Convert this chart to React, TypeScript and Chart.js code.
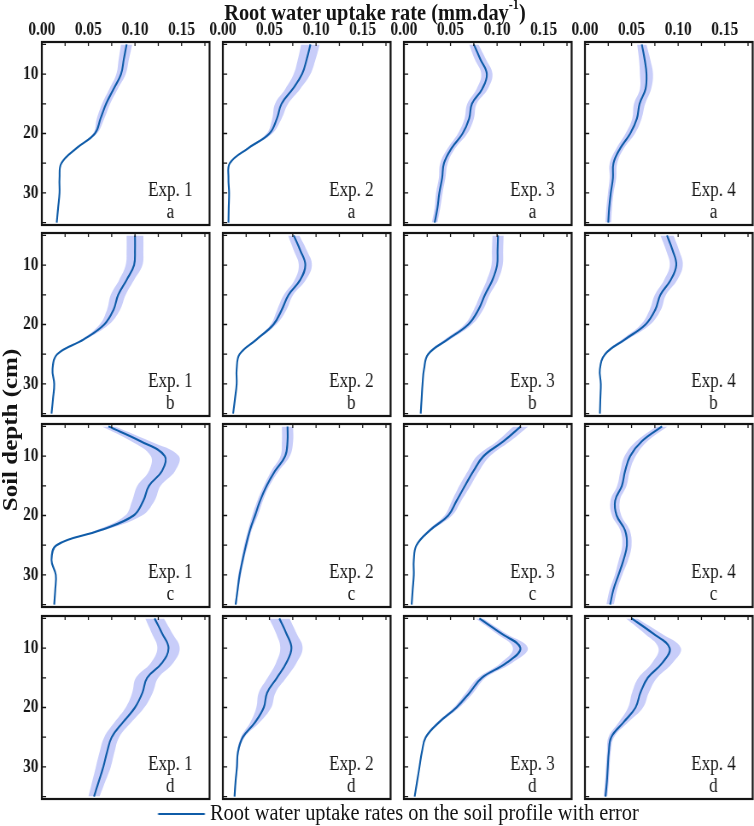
import { useEffect, useRef } from 'react';
import { Chart, registerables } from 'chart.js';

Chart.register(...registerables);

// soil depth (cm) where the profiles were read
const depths = [5, 7.5, 10, 12.5, 15, 17.5, 20, 22.5, 25, 27.5, 30, 32.5, 35];
const expNames = ['Exp. 1', 'Exp. 2', 'Exp. 3', 'Exp. 4'];
const rowLetters = ['a', 'b', 'c', 'd'];

// root water uptake rate (mm/day), mean and error, row a
const meanA1 = [0.091, 0.088, 0.085, 0.077, 0.069, 0.063, 0.057, 0.037, 0.021, 0.019, 0.019, 0.0175, 0.016];
const errA1 = [0.006, 0.0055, 0.005, 0.0045, 0.0043, 0.004, 0.002, 0.001, 0.0005, 0.0003, 0.0003, 0.0003, 0.0003];
const meanA2 = [0.094, 0.09, 0.085, 0.075, 0.063, 0.058, 0.05, 0.027, 0.0075, 0.006, 0.0067, 0.0063, 0.006];
const errA2 = [0.01, 0.0095, 0.009, 0.008, 0.007, 0.005, 0.003, 0.0015, 0.0005, 0.0003, 0.0003, 0.0003, 0.0003];
const meanA3 = [0.075, 0.082, 0.089, 0.084, 0.073, 0.07, 0.063, 0.051, 0.043, 0.041, 0.038, 0.036, 0.033];
const errA3 = [0.005, 0.006, 0.006, 0.006, 0.005, 0.005, 0.005, 0.004, 0.004, 0.0035, 0.0035, 0.003, 0.003];
const meanA4 = [0.061, 0.064, 0.066, 0.065, 0.0586, 0.0557, 0.0486, 0.0378, 0.0306, 0.03, 0.0277, 0.026, 0.025];
const errA4 = [0.005, 0.006, 0.007, 0.006, 0.006, 0.005, 0.005, 0.004, 0.004, 0.0035, 0.003, 0.003, 0.003];

// row b
const meanB1 = [0.1, 0.1, 0.099, 0.091, 0.082, 0.077, 0.067, 0.045, 0.0165, 0.0115, 0.0133, 0.012, 0.0104];
const errB1 = [0.009, 0.009, 0.009, 0.008, 0.008, 0.007, 0.005, 0.002, 0.0005, 0.0003, 0.0003, 0.0003, 0.0003];
const meanB2 = [0.076, 0.083, 0.0885, 0.083, 0.0705, 0.0633, 0.0543, 0.0363, 0.018, 0.0148, 0.0148, 0.013, 0.011];
const errB2 = [0.006, 0.007, 0.007, 0.006, 0.005, 0.005, 0.003, 0.0015, 0.0005, 0.0003, 0.0003, 0.0003, 0.0003];
const meanB3 = [0.101, 0.1005, 0.1, 0.095, 0.087, 0.08, 0.069, 0.047, 0.026, 0.0216, 0.02, 0.019, 0.018];
const errB3 = [0.006, 0.006, 0.006, 0.006, 0.005, 0.005, 0.004, 0.003, 0.001, 0.0005, 0.0005, 0.0005, 0.0005];
const meanB4 = [0.088, 0.094, 0.098, 0.092, 0.081, 0.0755, 0.065, 0.043, 0.0216, 0.016, 0.017, 0.0165, 0.016];
const errB4 = [0.007, 0.007, 0.007, 0.007, 0.006, 0.006, 0.005, 0.003, 0.001, 0.0005, 0.0005, 0.0005, 0.0005];

// row c
const meanC1 = [0.0715, 0.106, 0.132, 0.129, 0.115, 0.109, 0.0985, 0.0626, 0.0158, 0.0104, 0.015, 0.0144, 0.0133];
const errC1 = [0.007, 0.01, 0.015, 0.014, 0.0125, 0.012, 0.009, 0.004, 0.001, 0.0005, 0.0005, 0.0005, 0.0005];
const meanC2 = [0.0694, 0.0694, 0.0669, 0.056, 0.047, 0.04, 0.0345, 0.029, 0.0248, 0.0212, 0.018, 0.0158, 0.0137];
const errC2 = [0.006, 0.006, 0.005, 0.004, 0.003, 0.003, 0.003, 0.002, 0.002, 0.0015, 0.0015, 0.001, 0.001];
const meanC3 = [0.1255, 0.107, 0.0855, 0.0747, 0.0655, 0.0566, 0.0476, 0.0278, 0.0135, 0.0106, 0.0106, 0.0094, 0.0083];
const errC3 = [0.008, 0.007, 0.007, 0.006, 0.006, 0.005, 0.004, 0.002, 0.0005, 0.0003, 0.0003, 0.0003, 0.0003];
const meanC4 = [0.0827, 0.061, 0.0485, 0.0431, 0.0396, 0.0324, 0.034, 0.043, 0.045, 0.0413, 0.036, 0.0305, 0.027];
const errC4 = [0.006, 0.006, 0.006, 0.005, 0.005, 0.005, 0.005, 0.005, 0.005, 0.005, 0.004, 0.004, 0.004];

// row d
const meanD1 = [0.121, 0.129, 0.136, 0.129, 0.113, 0.108, 0.1, 0.087, 0.075, 0.07, 0.066, 0.061, 0.056];
const errD1 = [0.01, 0.011, 0.012, 0.012, 0.012, 0.011, 0.01, 0.009, 0.008, 0.008, 0.008, 0.007, 0.006];
const meanD2 = [0.0606, 0.068, 0.0736, 0.068, 0.058, 0.0475, 0.0439, 0.0345, 0.0214, 0.0162, 0.0151, 0.0136, 0.0125];
const errD2 = [0.011, 0.011, 0.012, 0.011, 0.01, 0.009, 0.008, 0.005, 0.002, 0.001, 0.001, 0.0005, 0.0005];
const meanD3 = [0.081, 0.104, 0.125, 0.11, 0.0836, 0.0705, 0.0564, 0.0376, 0.0235, 0.0193, 0.0167, 0.0141, 0.0115];
const errD3 = [0.004, 0.005, 0.008, 0.006, 0.004, 0.004, 0.003, 0.002, 0.001, 0.0005, 0.0005, 0.0005, 0.0005];
const meanD4 = [0.05, 0.0726, 0.0909, 0.083, 0.0674, 0.0595, 0.0543, 0.0413, 0.0282, 0.0256, 0.0245, 0.0235, 0.022];
const errD4 = [0.006, 0.009, 0.012, 0.011, 0.01, 0.009, 0.008, 0.005, 0.003, 0.002, 0.002, 0.002, 0.002];

const panelMeans = [
  [meanA1, meanA2, meanA3, meanA4],
  [meanB1, meanB2, meanB3, meanB4],
  [meanC1, meanC2, meanC3, meanC4],
  [meanD1, meanD2, meanD3, meanD4],
];
const panelErrs = [
  [errA1, errA2, errA3, errA4],
  [errB1, errB2, errB3, errB4],
  [errC1, errC2, errC3, errC4],
  [errD1, errD2, errD3, errD4],
];

// the original figure is squeezed sideways, so everything is laid out wider and scaled
const SQUASH = 0.85;
const DESIGN_W = 754 / SQUASH;
const COL_LEFT = [42, 223, 404, 585].map(v => v / SQUASH);
const ROW_TOP = [42, 233, 424, 616];
const PANEL_W = 167 / SQUASH;
const PANEL_H = 183;
const PAD_L = 46;
const PAD_T = 40;
const PAD_R = 3;
const PAD_B = 3;

const SERIF = '"Liberation Serif", "Times New Roman", serif';
const LINE_COLOR = '#0f5ca8';
const BAND_COLOR = 'rgba(166, 174, 246, 0.62)';
const INK = '#141414';

const panelFrame = {
  id: 'panelFrame',
  afterDraw(chart: Chart, _args: unknown, opts: { exp: string; letter: string }) {
    const { ctx, chartArea } = chart;
    const { left, top, right, bottom } = chartArea;
    const xs = chart.scales.x;
    const ys = chart.scales.y;
    ctx.save();
    ctx.strokeStyle = INK;
    ctx.lineWidth = 1.3;
    ctx.beginPath();
    xs.ticks.forEach(t => {
      const px = xs.getPixelForValue(t.value);
      ctx.moveTo(px, top);
      ctx.lineTo(px, top + 4);
    });
    ys.ticks.forEach(t => {
      const py = ys.getPixelForValue(t.value);
      ctx.moveTo(left, py);
      ctx.lineTo(left + 5, py);
    });
    ctx.stroke();

    ctx.lineWidth = 2.2;
    ctx.strokeRect(left, top, right - left, bottom - top);

    ctx.fillStyle = INK;
    ctx.font = `20px ${SERIF}`;
    ctx.textAlign = 'center';
    ctx.textBaseline = 'middle';
    ctx.fillText(opts.exp, left + 128 / SQUASH, top + 149);
    ctx.fillText(opts.letter, left + 128 / SQUASH, top + 171);
    ctx.restore();
  },
};

function Panel({ row, col }: { row: number; col: number }) {
  const canvasRef = useRef<HTMLCanvasElement>(null);

  useEffect(() => {
    if (!canvasRef.current) return;
    const mean = panelMeans[row][col];
    const err = panelErrs[row][col];
    const tickFont = { family: SERIF, size: 18, weight: 'bold' as const };

    const chart = new Chart(canvasRef.current, {
      type: 'line',
      data: {
        datasets: [
          {
            // lower edge of the error band
            data: depths.map((d, i) => ({ x: mean[i] - err[i], y: d })),
            borderWidth: 0,
            pointRadius: 0,
            fill: false,
            tension: 0.4,
            order: 2,
          },
          {
            // upper edge, filled back to the lower edge
            data: depths.map((d, i) => ({ x: mean[i] + err[i], y: d })),
            borderWidth: 0,
            pointRadius: 0,
            fill: '-1',
            backgroundColor: BAND_COLOR,
            tension: 0.4,
            order: 1,
          },
          {
            data: depths.map((d, i) => ({ x: mean[i], y: d })),
            borderColor: LINE_COLOR,
            borderWidth: 2.1,
            pointRadius: 0,
            fill: false,
            tension: 0.4,
            order: 0,
          },
        ],
      },
      options: {
        animation: false,
        responsive: true,
        maintainAspectRatio: false,
        indexAxis: 'y',
        events: [],
        layout: { padding: { left: 0, top: 0, right: PAD_R, bottom: PAD_B } },
        plugins: {
          legend: { display: false },
          tooltip: { enabled: false },
          panelFrame: { exp: expNames[col], letter: rowLetters[row] },
        } as any,
        scales: {
          x: {
            type: 'linear',
            position: 'top',
            min: 0,
            max: 0.18,
            grid: { display: false, drawTicks: false },
            border: { display: false },
            ticks: {
              display: row === 0,
              stepSize: 0.025,
              autoSkip: false,
              maxRotation: 0,
              includeBounds: false,
              padding: 1,
              color: INK,
              font: tickFont,
              callback: v => (Math.round(Number(v) * 1000) % 50 === 0 ? Number(v).toFixed(2) : ''),
            },
            afterFit: (s: any) => {
              s.height = PAD_T;
              s.paddingLeft = 0;
              s.paddingRight = 0;
            },
          },
          y: {
            type: 'linear',
            position: 'left',
            reverse: true,
            min: 4.6,
            max: 35.4,
            grid: { display: false, drawTicks: false },
            border: { display: false },
            ticks: {
              display: col === 0,
              stepSize: 5,
              autoSkip: false,
              includeBounds: false,
              padding: 4,
              color: INK,
              font: tickFont,
              callback: v => (Number(v) % 10 === 0 ? String(v) : ''),
            },
            afterFit: (s: any) => {
              s.width = PAD_L;
              s.paddingTop = 0;
              s.paddingBottom = 0;
            },
          },
        },
      },
      plugins: [panelFrame],
    });

    return () => {
      chart.destroy();
    };
  }, [row, col]);

  return (
    <div
      style={{
        position: 'absolute',
        left: COL_LEFT[col] - PAD_L,
        top: ROW_TOP[row] - PAD_T,
        width: PANEL_W + PAD_L + PAD_R,
        height: PANEL_H + PAD_T + PAD_B,
      }}
    >
      <canvas ref={canvasRef} />
    </div>
  );
}

export default function App() {
  const cells = [];
  for (let r = 0; r < 4; r++) {
    for (let c = 0; c < 4; c++) {
      cells.push(<Panel key={`${r}-${c}`} row={r} col={c} />);
    }
  }

  return (
    <div style={{ position: 'absolute', left: 0, top: 0, width: 754, height: 826, overflow: 'hidden', background: '#fff' }}>
      <div
        style={{
          position: 'absolute',
          left: 0,
          top: 0,
          width: DESIGN_W,
          height: 826,
          transform: `scaleX(${SQUASH})`,
          transformOrigin: '0 0',
          fontFamily: SERIF,
          color: INK,
        }}
      >
        <div
          style={{
            position: 'absolute',
            left: 375 / SQUASH - 300,
            top: 0,
            width: 600,
            textAlign: 'center',
            fontSize: 24,
            fontWeight: 'bold',
            lineHeight: '24px',
            whiteSpace: 'nowrap',
          }}
        >
          Root water uptake rate (mm.day
          <span style={{ fontSize: '0.6em', position: 'relative', top: '-0.75em' }}>-1</span>)
        </div>

        <div
          style={{
            position: 'absolute',
            left: 10.5 / SQUASH - 150,
            top: 430 - 15,
            width: 300,
            height: 30,
            lineHeight: '30px',
            textAlign: 'center',
            fontSize: 25,
            fontWeight: 'bold',
            transform: 'rotate(-90deg)',
            whiteSpace: 'nowrap',
          }}
        >
          Soil depth (cm)
        </div>

        {cells}

        <div
          style={{
            position: 'absolute',
            left: 158 / SQUASH,
            top: 812.5,
            width: 47 / SQUASH,
            height: 2,
            background: LINE_COLOR,
          }}
        />
        <div
          style={{
            position: 'absolute',
            left: 210 / SQUASH,
            top: 800,
            fontSize: 24,
            lineHeight: '24px',
            whiteSpace: 'nowrap',
          }}
        >
          Root water uptake rates on the soil profile with error
        </div>
      </div>
    </div>
  );
}
